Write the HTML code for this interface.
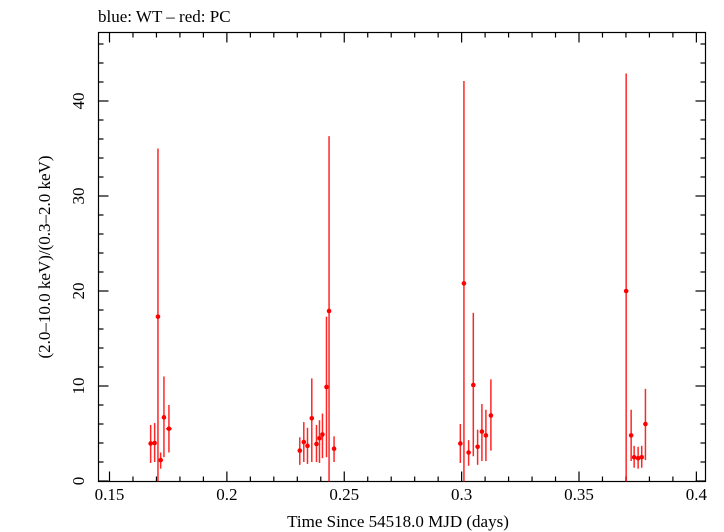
<!DOCTYPE html>
<html><head><meta charset="utf-8">
<style>
html,body{margin:0;padding:0;background:#fff;}
svg{display:block;font-family:"Liberation Serif",serif;}
</style></head>
<body>
<svg id="chart" width="724" height="532" viewBox="0 0 724 532" xmlns="http://www.w3.org/2000/svg">
<rect x="0" y="0" width="724" height="532" fill="#fff"/>
<text x="98" y="22" font-size="17" fill="#000">blue: WT – red: PC</text>
<rect x="98.5" y="32.5" width="607" height="449" fill="none" stroke="#000" stroke-width="1.2"/>
<g id="axes"></g>
<g id="marks"></g>
<text x="398" y="527" font-size="17" text-anchor="middle" fill="#000">Time Since 54518.0 MJD (days)</text>
<text transform="translate(50,257) rotate(-90)" font-size="17" text-anchor="middle" fill="#000">(2.0–10.0 keV)/(0.3–2.0 keV)</text>
</svg>
<script>
const times = [0.16753,0.16923,0.17064,0.17179,0.17319,0.17532,
 0.23106,0.23277,0.23434,0.23617,0.23817,0.23945,0.24072,0.24243,0.24353,0.24566,
 0.29945,0.30098,0.30298,0.30498,0.30681,0.30864,0.31034,0.31247,
 0.37009,0.37221,0.37349,0.37519,0.37672,0.37830];
const ratios = [3.95,4.0,17.3,2.2,6.7,5.5,
 3.2,4.1,3.7,6.6,3.9,4.5,4.9,9.9,17.9,3.4,
 3.95,20.8,3.0,10.1,3.6,5.2,4.8,6.9,
 20.0,4.8,2.5,2.4,2.5,6.0];
const errLow = [1.9,2.0,-1,1.3,2.5,3.0,
 1.7,2.0,1.8,2.0,2.0,1.9,2.4,2.5,-1,2.0,
 1.9,-1,1.6,2.6,1.7,2.1,2.1,3.2,
 -1,2.1,1.4,1.3,1.4,2.2];
const errHigh = [5.9,6.1,35.0,3.0,11.0,8.0,
 4.6,6.2,5.6,10.8,5.9,6.4,7.1,17.3,36.3,4.7,
 6.0,42.1,4.3,17.7,5.4,8.1,7.5,10.7,
 42.9,7.5,3.7,3.6,3.7,9.7];
const timeErr = [0.0004,0.0004,0.0003,0.0004,0.0004,0.0012,
 0.0004,0.0004,0.0004,0.0004,0.0004,0.0004,0.0004,0.0004,0.0003,0.0008,
 0.0004,0.0003,0.0004,0.0004,0.0004,0.0004,0.0004,0.0007,
 0.0003,0.0004,0.0004,0.0004,0.0004,0.0004];
const xTicks = [0.15,0.2,0.25,0.3,0.35,0.4];
const xTickLabels = ["0.15","0.2","0.25","0.3","0.35","0.4"];
const yTicks = [0,10,20,30,40];
const yTickLabels = ["0","10","20","30","40"];

const NS = "http://www.w3.org/2000/svg";
const PL = 98.5, PR = 705.5, PT = 32.5, PB = 481.5;
function xs(t){ return 109.5 + (t - 0.15) * 2347.5; }
function ys(v){ return 481 - v * 9.5; }
function el(tag, attrs, parent){ const e = document.createElementNS(NS, tag); for (const k in attrs) e.setAttribute(k, attrs[k]); parent.appendChild(e); return e; }

const axes = document.getElementById('axes');
// x minor ticks
for (let i = 0; i <= 26; i++) {
  const t = 0.14 + i * 0.01;
  const x = xs(t);
  if (x < PL || x > PR) continue;
  const major = Math.abs(Math.round(t * 100) % 5) === 0;
  const len = major ? 10 : 5;
  const a = el('line', {x1:x, x2:x, y1:PB, y2:PB-len, stroke:'#000', 'stroke-width':1.2}, axes);
  
  
  const b = el('line', {x1:x, x2:x, y1:PT, y2:PT+len, stroke:'#000', 'stroke-width':1.2}, axes);
  
  
}
xTicks.forEach((t, i) => {
  const tx = el('text', {x:xs(t), y:500, 'font-size':17, 'text-anchor':'middle', fill:'#000'}, axes);
  tx.textContent = xTickLabels[i];
  
  
});
for (let v = 0; v <= 46; v += 2) {
  const y = ys(v);
  if (y < PT) continue;
  const major = v % 10 === 0;
  const len = major ? 10 : 5;
  const a = el('line', {x1:PL, x2:PL+len, y1:y, y2:y, stroke:'#000', 'stroke-width':1.2}, axes);
  
  
  const b = el('line', {x1:PR, x2:PR-len, y1:y, y2:y, stroke:'#000', 'stroke-width':1.2}, axes);
  
  
}
yTicks.forEach((v, i) => {
  const tx = el('text', {transform:'translate(84,'+ys(v)+') rotate(-90)', 'font-size':17, 'text-anchor':'middle', fill:'#000'}, axes);
  tx.textContent = yTickLabels[i];
  
  
});

const marks = document.getElementById('marks');
times.forEach((t, i) => {
  const x = xs(t), y = ys(ratios[i]);
  const lo = Math.min(ys(errLow[i]), PB), hi = Math.max(ys(errHigh[i]), PT);
  const eb = el('line', {x1:x, x2:x, y1:lo, y2:hi, stroke:'#ff0000', 'stroke-width':1.5, 'stroke-opacity':0.85}, marks);
  
  
  const hb = el('line', {x1:xs(t - timeErr[i]), x2:xs(t + timeErr[i]), y1:y, y2:y, stroke:'#ff0000', 'stroke-width':1.5}, marks);
  
  
  const p = el('circle', {cx:x, cy:y, r:2.3, fill:'#ff0000'}, marks);
  
  
});
</script>
</body></html>
